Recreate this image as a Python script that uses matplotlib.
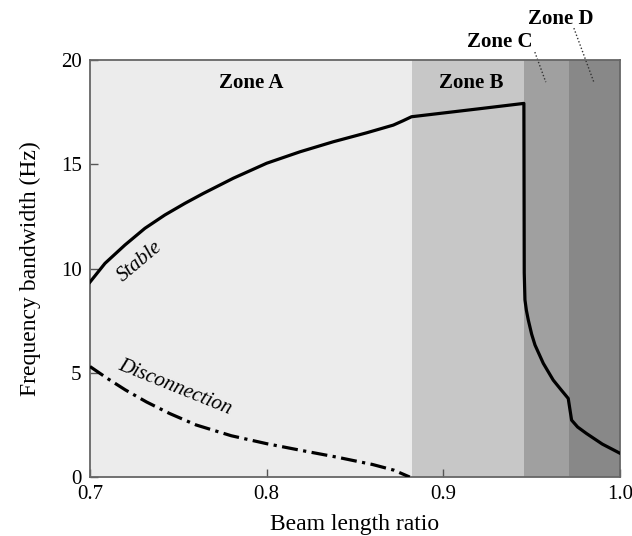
import numpy as np
import matplotlib
matplotlib.use("Agg")
import matplotlib.pyplot as plt

# ---- data -------------------------------------------------------------
# beam length ratio / bandwidth for the stable branch
stable_x = [0.700, 0.7085, 0.7198, 0.7311, 0.7424, 0.7538, 0.7641, 0.7811,
            0.800, 0.8189, 0.8377, 0.8566, 0.8717, 0.877, 0.882, 0.900,
            0.920, 0.9456, 0.9458, 0.9462, 0.9470, 0.9481, 0.950, 0.9519,
            0.9566, 0.9622, 0.9665, 0.9707, 0.9726, 0.976, 0.981, 0.990,
            1.000]
stable_y = [9.35, 10.25, 11.13, 11.93, 12.57, 13.13, 13.60, 14.33,
            15.05, 15.60, 16.08, 16.51, 16.88, 17.08, 17.28, 17.46,
            17.66, 17.92, 9.80, 8.50, 8.00, 7.53, 6.85, 6.33,
            5.45, 4.65, 4.20, 3.77, 2.73, 2.40, 2.09, 1.58,
            1.14]

# disconnection branch
disc_x = [0.700, 0.710, 0.720, 0.732, 0.745, 0.760, 0.780, 0.800, 0.820,
          0.840, 0.860, 0.872, 0.881]
disc_y = [5.30, 4.72, 4.18, 3.60, 3.05, 2.50, 1.98, 1.60, 1.27,
          0.95, 0.60, 0.33, 0.00]

# zone limits and shading
zone_names = ["Zone A", "Zone B", "Zone C", "Zone D"]
zone_edges = [0.700, 0.882, 0.9456, 0.971, 1.000]
zone_colors = ["#ececec", "#c7c7c7", "#a0a0a0", "#888888"]

xticks = [0.7, 0.8, 0.9, 1.0]
xtick_labels = ["0.7", "0.8", "0.9", "1.0"]
yticks = [0, 5, 10, 15, 20]

# ---- figure -----------------------------------------------------------
plt.rcParams['font.family'] = ['Liberation Serif', 'DejaVu Serif']
plt.rcParams['font.size'] = 15

fig = plt.figure(figsize=(6.32, 5.36), dpi=100)
ax = fig.add_axes([0.1424, 0.110, 0.8386, 0.778])

for i in range(4):
    ax.axvspan(zone_edges[i], zone_edges[i + 1], color=zone_colors[i], lw=0, zorder=0)

ax.plot(stable_x, stable_y, color='black', lw=2.3, solid_joinstyle='round', zorder=3)
ax.plot(disc_x, disc_y, color='black', lw=2.3, linestyle=(0, (5, 1.7, 1, 1.7)), zorder=3)

ax.set_xlim(0.7, 1.0)
ax.set_ylim(0, 20)
ax.set_xticks(xticks)
ax.set_xticklabels(xtick_labels)
ax.set_yticks(yticks)
ax.tick_params(direction='in', length=6, width=1, color='#555555', pad=6)
for sp in ax.spines.values():
    sp.set_color('#666666')
    sp.set_linewidth(1.3)

ax.set_xlabel("Beam length ratio", fontsize=17, labelpad=7)
ax.set_ylabel("Frequency bandwidth (Hz)", fontsize=17, labelpad=14)

# zone labels
ax.text(0.791, 18.9, zone_names[0], ha='center', va='center', fontsize=15, fontweight='bold')
ax.text(0.916, 18.9, zone_names[1], ha='center', va='center', fontsize=15, fontweight='bold')
ax.text(0.932, 20.86, zone_names[2], ha='center', va='center', fontsize=15,
        fontweight='bold', clip_on=False)
ax.text(0.9666, 21.95, zone_names[3], ha='center', va='center', fontsize=15,
        fontweight='bold', clip_on=False)
ax.plot([0.9518, 0.958], [20.38, 18.94], color='#333333', lw=1, ls=(0, (1, 1.5)), clip_on=False)
ax.plot([0.9739, 0.9852], [21.53, 18.94], color='#333333', lw=1, ls=(0, (1, 1.5)), clip_on=False)

# curve labels
ax.text(0.7283, 10.31, "Stable", rotation=40, ha='center', va='center',
        fontsize=15, style='italic')
ax.text(0.748, 4.32, "Disconnection", rotation=-22, ha='center', va='center',
        fontsize=15, style='italic')

fig.savefig("out.png", dpi=100)
